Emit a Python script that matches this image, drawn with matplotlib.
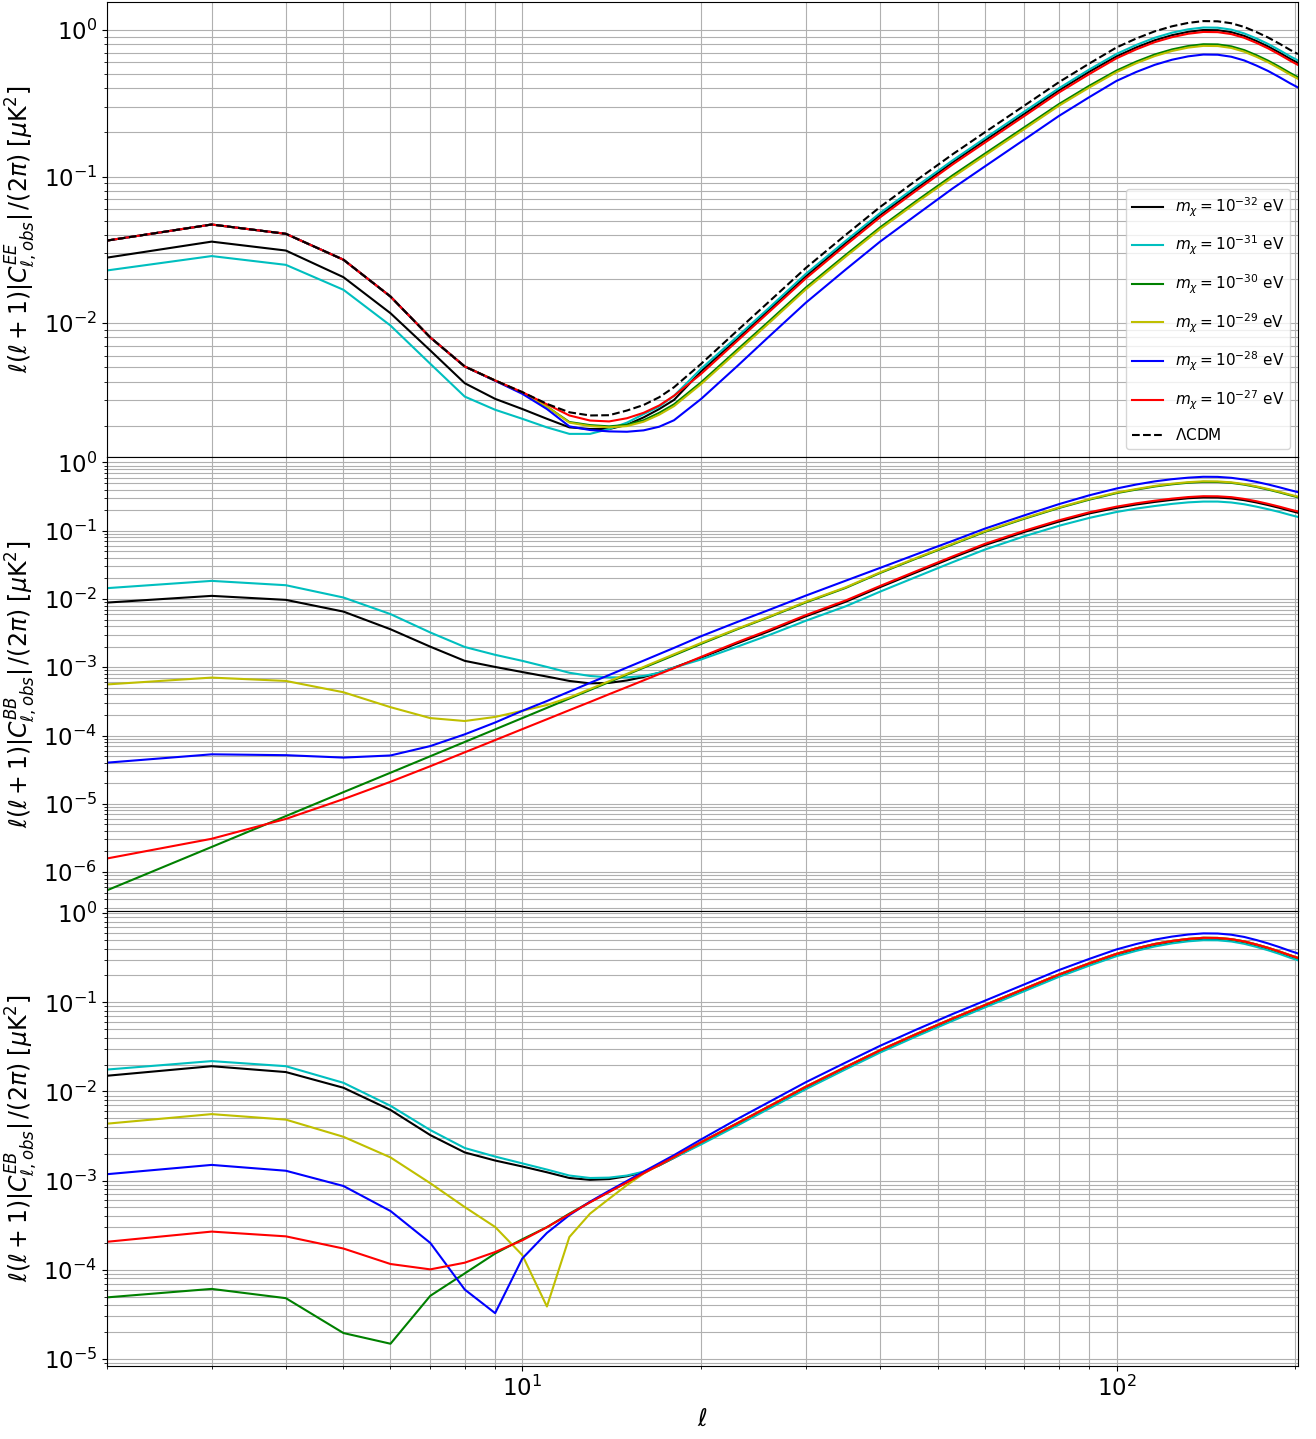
import matplotlib
matplotlib.use("Agg")
import matplotlib.pyplot as plt

ELL = [2, 3, 4, 5, 6, 7, 8, 9, 10, 11, 12, 13, 14, 15, 16, 17, 18,
       20, 23, 26, 30, 35, 40, 46, 53, 60, 70, 80, 90,
       100, 108, 116, 124, 132, 140, 148, 156, 164, 172, 180, 188, 196, 202]

# ---------------- EE ----------------
EE_M32 = [0.028, 0.036, 0.0313, 0.0206, 0.0117, 0.00652, 0.0039, 0.00305, 0.0026, 0.00223, 0.00195, 0.0019, 0.0019, 0.00203, 0.00228, 0.0026, 0.003,
          0.0047, 0.0078, 0.0123, 0.0209, 0.0352, 0.0546, 0.0827, 0.125, 0.176, 0.268, 0.387, 0.519,
          0.66, 0.76, 0.85, 0.92, 0.97, 0.998, 0.995, 0.965, 0.91, 0.84, 0.77, 0.70, 0.635, 0.595]
EE_M31 = [0.0229, 0.0287, 0.025, 0.0169, 0.00964, 0.00529, 0.00316, 0.00257, 0.00223, 0.00195, 0.00176, 0.00176, 0.0019, 0.0021, 0.0024, 0.0027, 0.0032,
          0.0049, 0.0081, 0.0127, 0.0217, 0.0364, 0.0564, 0.0855, 0.129, 0.182, 0.278, 0.40, 0.537,
          0.686, 0.790, 0.884, 0.957, 1.009, 1.038, 1.035, 1.004, 0.946, 0.874, 0.801, 0.728, 0.660, 0.619]
EE_M30 = [0.0366, 0.0471, 0.0407, 0.0271, 0.0152, 0.0080, 0.00507, 0.00407, 0.00335, 0.0027, 0.00212, 0.00202, 0.00198, 0.00203, 0.00218, 0.00245, 0.0028,
          0.00396, 0.0066, 0.0103, 0.0175, 0.0292, 0.0450, 0.068, 0.102, 0.143, 0.217, 0.312, 0.416,
          0.528, 0.608, 0.68, 0.736, 0.776, 0.798, 0.796, 0.772, 0.728, 0.672, 0.616, 0.56, 0.508, 0.476]
EE_M29 = [0.0366, 0.0471, 0.0407, 0.0271, 0.0152, 0.0080, 0.00507, 0.00407, 0.00335, 0.0027, 0.0021, 0.00199, 0.00195, 0.00199, 0.00213, 0.00238, 0.00272,
          0.00385, 0.0064, 0.0100, 0.0170, 0.0284, 0.0438, 0.0662, 0.099, 0.139, 0.211, 0.304, 0.405,
          0.515, 0.593, 0.663, 0.718, 0.757, 0.778, 0.776, 0.753, 0.710, 0.655, 0.601, 0.546, 0.495, 0.464]
EE_M28 = [0.0366, 0.0471, 0.0407, 0.0271, 0.0152, 0.0080, 0.00507, 0.00405, 0.0033, 0.0026, 0.00198, 0.00187, 0.00183, 0.00182, 0.00186, 0.00197, 0.00218,
          0.00305, 0.0051, 0.0081, 0.0138, 0.0232, 0.036, 0.0546, 0.083, 0.117, 0.179, 0.259, 0.348,
          0.449, 0.517, 0.578, 0.626, 0.660, 0.679, 0.677, 0.656, 0.619, 0.571, 0.524, 0.476, 0.432, 0.405]
EE_M27 = [0.0366, 0.0471, 0.0407, 0.0271, 0.0152, 0.0080, 0.00507, 0.00407, 0.00339, 0.0028, 0.00235, 0.00217, 0.00214, 0.00225, 0.00245, 0.00275, 0.0032,
          0.00452, 0.00757, 0.0119, 0.0202, 0.034, 0.0527, 0.080, 0.121, 0.170, 0.259, 0.374, 0.50,
          0.640, 0.737, 0.825, 0.892, 0.941, 0.968, 0.965, 0.936, 0.883, 0.815, 0.747, 0.679, 0.616, 0.577]
EE_LCDM = [0.0366, 0.0471, 0.0407, 0.0271, 0.0152, 0.0080, 0.00507, 0.00407, 0.00339, 0.00282, 0.00247, 0.00235, 0.00236, 0.00254, 0.00277, 0.00313, 0.00366,
           0.00529, 0.0089, 0.0140, 0.0238, 0.040, 0.062, 0.094, 0.142, 0.200, 0.305, 0.44, 0.59,
           0.759, 0.874, 0.978, 1.058, 1.116, 1.148, 1.144, 1.110, 1.047, 0.966, 0.886, 0.805, 0.730, 0.684]

# ---------------- BB ----------------
BB_M32 = [0.00885, 0.0111, 0.0097, 0.00653, 0.0036, 0.0020, 0.00124, 0.00101, 8.5e-4, 7.3e-4, 6.3e-4, 5.8e-4, 5.9e-4, 6.4e-4, 7.2e-4, 8.3e-4, 9.9e-4,
          1.38e-3, 2.24e-3, 3.36e-3, 5.57e-3, 9.1e-3, 0.0149, 0.0245, 0.0403, 0.0614, 0.096, 0.136, 0.179,
          0.216, 0.242, 0.264, 0.283, 0.299, 0.307, 0.306, 0.297, 0.280, 0.259, 0.237, 0.216, 0.196, 0.183]
BB_M31 = [0.0144, 0.0184, 0.0159, 0.0105, 0.0060, 0.00323, 0.00198, 0.00152, 0.00124, 0.00101, 8.3e-4, 7.45e-4, 7.1e-4, 7.1e-4, 7.45e-4, 8.3e-4, 9.9e-4,
          1.3e-3, 2.0e-3, 2.95e-3, 4.8e-3, 7.8e-3, 0.0128, 0.021, 0.0346, 0.0528, 0.083, 0.118, 0.154,
          0.188, 0.211, 0.230, 0.247, 0.260, 0.267, 0.267, 0.259, 0.244, 0.225, 0.206, 0.188, 0.170, 0.159]
BB_M30 = [5.4e-7, 2.33e-6, 6.6e-6, 1.48e-5, 2.85e-5, 4.97e-5, 8.04e-5, 1.23e-4, 1.80e-4, 2.54e-4, 3.48e-4, 4.64e-4, 6.07e-4, 7.79e-4, 9.84e-4, 1.22e-3, 1.50e-3,
          2.2e-3, 3.6e-3, 5.4e-3, 8.9e-3, 0.0145, 0.024, 0.039, 0.063, 0.096, 0.15, 0.215, 0.285,
          0.355, 0.400, 0.444, 0.478, 0.504, 0.519, 0.517, 0.502, 0.473, 0.437, 0.400, 0.364, 0.330, 0.309]
BB_M29 = [5.6e-4, 7.05e-4, 6.3e-4, 4.3e-4, 2.6e-4, 1.8e-4, 1.63e-4, 1.87e-4, 2.3e-4, 2.8e-4, 3.6e-4, 4.8e-4, 6.25e-4, 8.0e-4, 1.01e-3, 1.26e-3, 1.55e-3,
          2.27e-3, 3.67e-3, 5.5e-3, 9.1e-3, 0.0148, 0.0245, 0.0398, 0.0643, 0.098, 0.153, 0.219, 0.291,
          0.362, 0.408, 0.453, 0.488, 0.514, 0.529, 0.527, 0.511, 0.482, 0.445, 0.408, 0.371, 0.337, 0.315]
BB_M28 = [4.0e-5, 5.3e-5, 5.15e-5, 4.75e-5, 5.1e-5, 7.0e-5, 1.04e-4, 1.55e-4, 2.3e-4, 3.2e-4, 4.4e-4, 5.9e-4, 7.7e-4, 9.9e-4, 1.25e-3, 1.56e-3, 1.92e-3,
          2.85e-3, 4.6e-3, 6.9e-3, 0.0112, 0.0185, 0.0285, 0.045, 0.071, 0.107, 0.168, 0.245, 0.33,
          0.415, 0.475, 0.528, 0.568, 0.598, 0.616, 0.614, 0.595, 0.561, 0.518, 0.475, 0.432, 0.392, 0.367]
BB_M27 = [1.58e-6, 3.07e-6, 6.0e-6, 1.17e-5, 2.1e-5, 3.55e-5, 5.67e-5, 8.56e-5, 1.24e-4, 1.73e-4, 2.35e-4, 3.1e-4, 4.03e-4, 5.12e-4, 6.42e-4, 7.94e-4, 9.7e-4,
          1.42e-3, 2.33e-3, 3.5e-3, 5.8e-3, 9.5e-3, 0.0155, 0.0255, 0.042, 0.064, 0.100, 0.142, 0.186,
          0.225, 0.252, 0.275, 0.295, 0.311, 0.320, 0.319, 0.310, 0.292, 0.270, 0.247, 0.225, 0.204, 0.191]

# ---------------- EB ----------------
EB_M32 = [0.015, 0.0192, 0.0165, 0.011, 0.0062, 0.00324, 0.00207, 0.00168, 0.00144, 0.00124, 0.00107, 0.00102, 0.00104, 0.00112, 0.00124, 0.00148, 0.0018,
          2.62e-3, 4.27e-3, 6.6e-3, 0.011, 0.0182, 0.0281, 0.0427, 0.064, 0.090, 0.138, 0.199, 0.266,
          0.339, 0.391, 0.437, 0.473, 0.499, 0.513, 0.511, 0.496, 0.468, 0.432, 0.396, 0.360, 0.326, 0.306]
EB_M31 = [0.0176, 0.0219, 0.0192, 0.0125, 0.0069, 0.00369, 0.00232, 0.00186, 0.00156, 0.00133, 0.00114, 0.00107, 0.00108, 0.00114, 0.00126, 0.0015, 0.0018,
          2.55e-3, 4.14e-3, 6.4e-3, 0.0106, 0.0177, 0.0273, 0.0414, 0.062, 0.0874, 0.1335, 0.193, 0.258,
          0.329, 0.378, 0.423, 0.458, 0.483, 0.497, 0.496, 0.481, 0.453, 0.418, 0.383, 0.349, 0.316, 0.296]
EB_M30 = [4.9e-5, 6.1e-5, 4.8e-5, 1.95e-5, 1.48e-5, 5.1e-5, 9.1e-5, 1.52e-4, 2.2e-4, 3.0e-4, 4.26e-4, 5.75e-4, 7.5e-4, 9.6e-4, 1.22e-3, 1.51e-3, 1.85e-3,
          2.7e-3, 4.4e-3, 6.8e-3, 0.0113, 0.0188, 0.029, 0.044, 0.066, 0.093, 0.142, 0.205, 0.274,
          0.350, 0.403, 0.451, 0.488, 0.514, 0.529, 0.527, 0.511, 0.482, 0.445, 0.408, 0.371, 0.337, 0.315]
EB_M29 = [0.00435, 0.00557, 0.00483, 0.0031, 0.00182, 9.35e-4, 5.05e-4, 3.02e-4, 1.46e-4, 3.87e-5, 2.33e-4, 4.26e-4, 6.26e-4, 8.9e-4, 1.2e-3, 1.5e-3, 1.84e-3,
          2.7e-3, 4.4e-3, 6.8e-3, 0.0113, 0.0188, 0.029, 0.044, 0.066, 0.093, 0.142, 0.205, 0.274,
          0.350, 0.403, 0.451, 0.488, 0.514, 0.529, 0.527, 0.511, 0.482, 0.445, 0.408, 0.371, 0.337, 0.315]
EB_M28 = [0.00118, 0.0015, 0.00129, 8.7e-4, 4.56e-4, 2.0e-4, 6.0e-5, 3.26e-5, 1.34e-4, 2.59e-4, 4.1e-4, 5.8e-4, 7.7e-4, 9.9e-4, 1.26e-3, 1.57e-3, 1.93e-3,
          2.9e-3, 4.9e-3, 7.6e-3, 0.0127, 0.0211, 0.0325, 0.0493, 0.074, 0.104, 0.159, 0.23, 0.307,
          0.392, 0.451, 0.505, 0.546, 0.576, 0.593, 0.591, 0.573, 0.541, 0.499, 0.457, 0.416, 0.377, 0.353]
EB_M27 = [2.06e-4, 2.68e-4, 2.37e-4, 1.73e-4, 1.16e-4, 1.01e-4, 1.2e-4, 1.58e-4, 2.14e-4, 3.0e-4, 4.2e-4, 5.7e-4, 7.45e-4, 9.55e-4, 1.21e-3, 1.5e-3, 1.84e-3,
          2.7e-3, 4.4e-3, 6.8e-3, 0.0113, 0.0188, 0.029, 0.044, 0.066, 0.093, 0.142, 0.205, 0.274,
          0.350, 0.403, 0.451, 0.488, 0.514, 0.529, 0.527, 0.511, 0.482, 0.445, 0.408, 0.371, 0.337, 0.315]

LABELS = [r'$m_\chi = 10^{-32}$ eV', r'$m_\chi = 10^{-31}$ eV', r'$m_\chi = 10^{-30}$ eV',
          r'$m_\chi = 10^{-29}$ eV', r'$m_\chi = 10^{-28}$ eV', r'$m_\chi = 10^{-27}$ eV']
COLORS = ['k', 'c', 'g', 'y', 'b', 'r']

panels = [
    ([EE_M32, EE_M31, EE_M30, EE_M29, EE_M28, EE_M27], 'EE', (10**-2.91, 10**0.19)),
    ([BB_M32, BB_M31, BB_M30, BB_M29, BB_M28, BB_M27], 'BB', (10**-6.576, 10**0.084)),
    ([EB_M32, EB_M31, EB_M30, EB_M29, EB_M28, EB_M27], 'EB', (10**-5.08, 10**0.02)),
]

fig, axes = plt.subplots(3, 1, sharex=True, figsize=(13.16, 14.39), dpi=100)
fig.subplots_adjust(left=0.0813, right=0.9863, top=0.9986, bottom=0.0507, hspace=0)

for ax, (series, tag, ylim) in zip(axes, panels):
    for vals, col, lab in zip(series, COLORS, LABELS):
        ax.plot(ELL, vals, color=col, lw=1.5, label=lab)
    if tag == 'EE':
        ax.plot(ELL, EE_LCDM, 'k--', lw=1.5, label=r'$\Lambda$CDM')
    ax.set_xscale('log')
    ax.set_yscale('log')
    ax.set_xlim(2, 202)
    ax.set_ylim(*ylim)
    ax.grid(True, which='both', color='#b0b0b0', lw=0.8)
    ax.tick_params(axis='both', which='major', labelsize=16.5)
    ax.set_ylabel(r'$\ell(\ell+1)|C^{%s}_{\ell,obs}|\,/(2\pi)$ $[\mu \mathrm{K}^2]$' % tag, fontsize=17)
    ax.yaxis.set_label_coords(-0.056, 0.5)

axes[0].legend(loc='lower right', fontsize=11, labelspacing=1.0)
axes[2].set_xlabel(r'$\ell$', fontsize=17)

fig.savefig('out.png', dpi=100)
